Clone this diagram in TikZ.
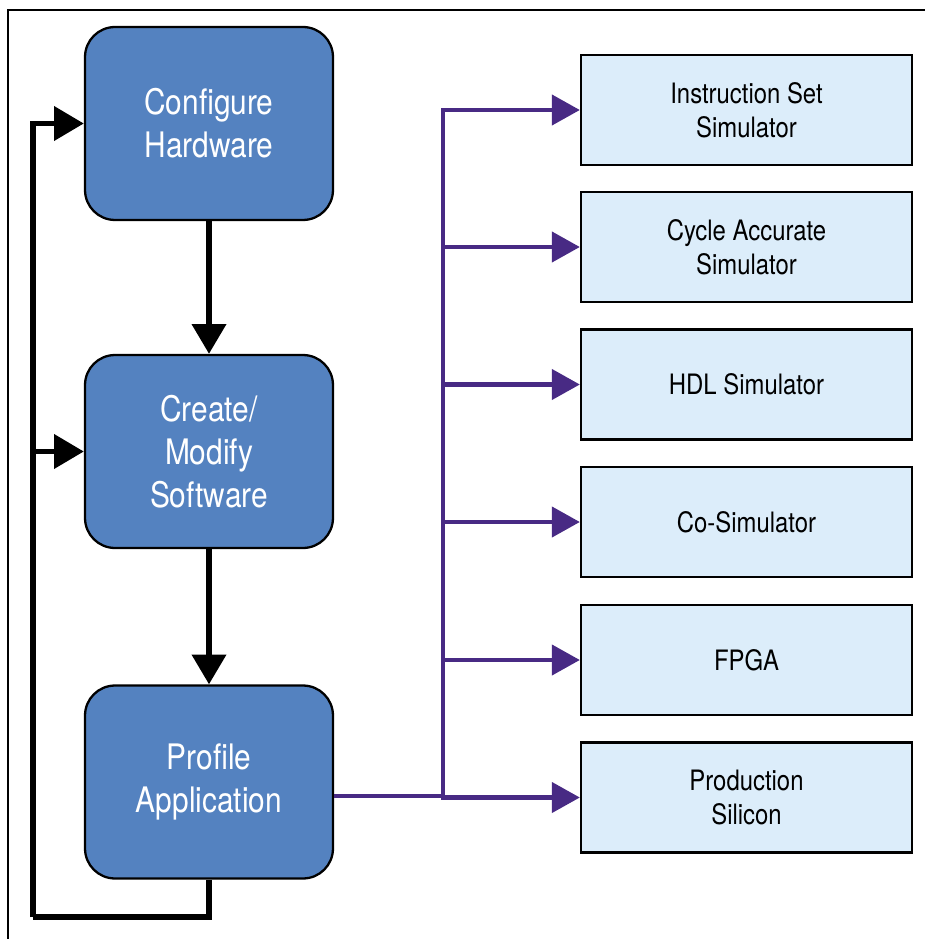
\documentclass[tikz,border=0pt]{standalone}
\usepackage{fontspec}
\setmainfont{TeX Gyre Heros}[FakeStretch=0.85]
\usepackage{tikz}
\usetikzlibrary{arrows.meta}
\usetikzlibrary{positioning}

\definecolor{stepblue}{RGB}{84,130,192}
\definecolor{targetblue}{RGB}{220,237,250}
\definecolor{linkpurple}{RGB}{72,42,132}

\tikzset{
    flowbox/.style={draw=black, line width=1.3pt, fill=stepblue, rounded corners=0.6cm,
        minimum width=4.96cm, minimum height=3.86cm, text=white, align=center,
        font=\fontsize{20}{24.5}\selectfont},
    targetbox/.style={draw=black, line width=1.3pt, fill=targetblue,
        minimum width=6.62cm, minimum height=2.2cm, align=center,
        font=\fontsize{16}{19.5}\selectfont},
    flowarrow/.style={line width=3.4pt, -{Triangle[length=17pt, width=19pt]}},
    looparrow/.style={line width=3.4pt},
    linkline/.style={draw=linkpurple, line width=2.8pt},
    linkarrow/.style={linkline, -{Triangle[length=16pt, width=17pt]}}
}

\begin{document}
\begin{tikzpicture}[x=0.02cm, y=-0.02cm]
        \useasboundingbox (0, 0) rectangle (925, 939);
        \draw [line width=0.8pt] (8, 939) -- (8, 10) -- (925, 10);

        \node [flowbox] (config) at (209, 123.5) {Configure\\Hardware};
        \node [flowbox] (create) at (209, 451.5) {Create/\\Modify\\Software};
        \node [flowbox] (profile) at (209, 782) {Profile\\Application};

        \draw [flowarrow] (config) -- (create);
        \draw [flowarrow] (create) -- (profile);

        % loop back
        \coordinate (loopleft) at (33, 917);
        \draw [looparrow] (profile.south) |- (loopleft);
        \draw [flowarrow] (loopleft) |- (config.west);
        \draw [flowarrow] (loopleft) |- (create.west);

        \node [targetbox] (iss) at (746.5, 110) {Instruction Set\\Simulator};
        \node [targetbox] (cas) at (746.5, 247) {Cycle Accurate\\Simulator};
        \node [targetbox] (hdl) at (746.5, 384.5) {HDL Simulator};
        \node [targetbox] (cosim) at (746.5, 522) {Co-Simulator};
        \node [targetbox] (fpga) at (746.5, 660) {FPGA};
        \node [targetbox] (silicon) at (746.5, 797.5) {Production\\Silicon};

        \coordinate (split) at (443, 796);
        \draw [linkline] (profile.east |- split) -- (split);
        \foreach \t in {iss, cas, hdl, cosim, fpga, silicon}
            \draw [linkarrow] (split) |- (\t.west);
\end{tikzpicture}
\end{document}
